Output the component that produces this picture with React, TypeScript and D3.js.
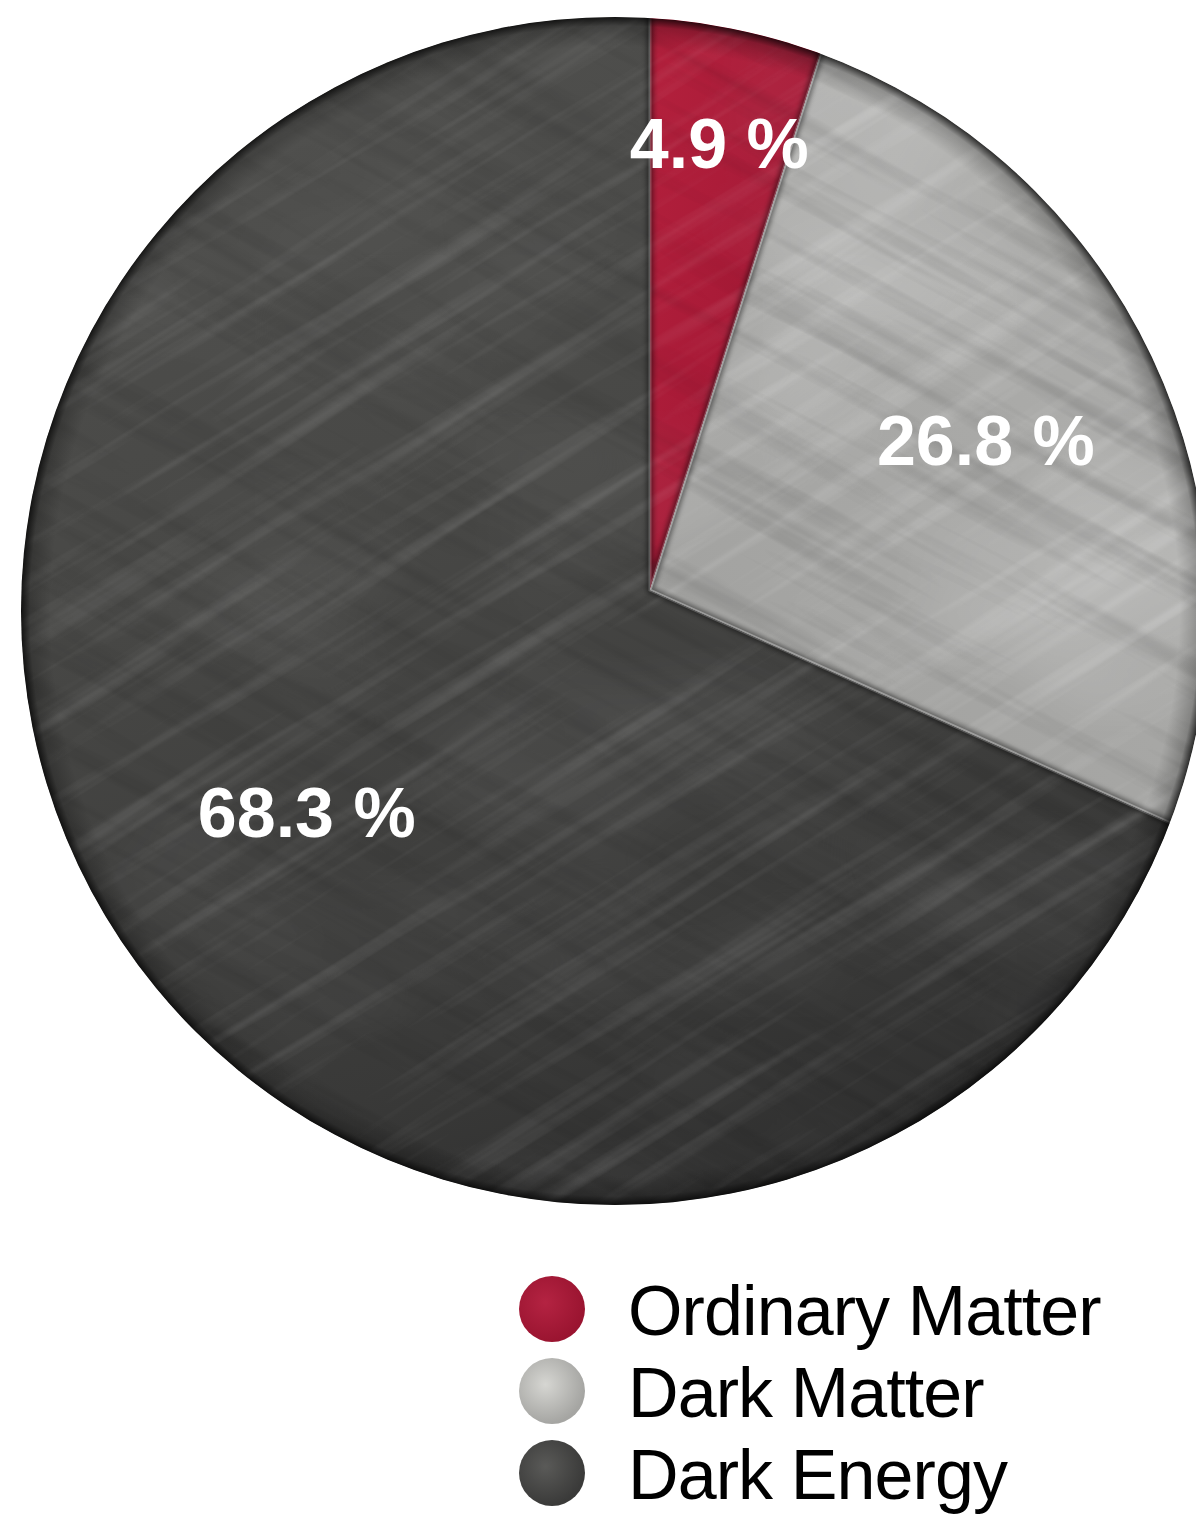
import React from "react";
import * as d3 from "d3";

const categories = ["Ordinary Matter", "Dark Matter", "Dark Energy"];
const values = [4.9, 26.8, 68.3];
const labels = ["4.9 %", "26.8 %", "68.3 %"];

const W = 1196;
const H = 1514;
const VX = 650; // slice vertex
const VY = 590;
const CX = 615; // outer disc
const CY = 611;
const R = 594;
const LABEL_R = [452, 368, 409];

const fills = ["url(#gRed)", "url(#gGray)", "url(#gDark)"];
const texOpacity = [0.12, 0.2, 0.15];

export default function App() {
  const pie = d3.pie<number>().sort(null).value((d) => d)(values);
  const arc = d3.arc<d3.PieArcDatum<number>>().innerRadius(0).outerRadius(760);

  return (
    <div style={{ position: "absolute", left: 0, top: 0, width: W, height: H, background: "#fff" }}>
      <svg width={W} height={H} viewBox={`0 0 ${W} ${H}`} style={{ display: "block" }}>
        <defs>
          <linearGradient id="gRed" x1="0" y1="0" x2="1" y2="1">
            <stop offset="0" stopColor="#b8233f" />
            <stop offset="0.5" stopColor="#a81a37" />
            <stop offset="1" stopColor="#961330" />
          </linearGradient>
          <linearGradient id="gGray" x1="0.9" y1="0" x2="0.2" y2="1">
            <stop offset="0" stopColor="#c0c0bc" />
            <stop offset="0.45" stopColor="#acacaa" />
            <stop offset="1" stopColor="#a0a09e" />
          </linearGradient>
          <linearGradient id="gDark" x1="0.2" y1="0" x2="0.5" y2="1">
            <stop offset="0" stopColor="#535351" />
            <stop offset="0.45" stopColor="#484846" />
            <stop offset="0.8" stopColor="#393938" />
            <stop offset="1" stopColor="#2a2a2a" />
          </linearGradient>
          <radialGradient id="gRim" cx="0.5" cy="0.5" r="0.5">
            <stop offset="0.95" stopColor="#000" stopOpacity="0" />
            <stop offset="0.985" stopColor="#000" stopOpacity="0.22" />
            <stop offset="1" stopColor="#000" stopOpacity="0.75" />
          </radialGradient>
          <radialGradient id="lgGray" cx="0.4" cy="0.4" r="0.6">
            <stop offset="0" stopColor="#d6d6d2" />
            <stop offset="1" stopColor="#a5a5a2" />
          </radialGradient>
          <radialGradient id="lgDark" cx="0.4" cy="0.4" r="0.6">
            <stop offset="0" stopColor="#5a5a58" />
            <stop offset="1" stopColor="#3a3a39" />
          </radialGradient>
          <radialGradient id="lgRed" cx="0.4" cy="0.4" r="0.6">
            <stop offset="0" stopColor="#b42342" />
            <stop offset="1" stopColor="#9a1430" />
          </radialGradient>
          <filter id="brushLight" x="0" y="0" width="100%" height="100%">
            <feTurbulence type="fractalNoise" baseFrequency="0.0025 0.06" numOctaves="3" seed="7" result="n" />
            <feColorMatrix
              in="n"
              type="matrix"
              values="0 0 0 0 1  0 0 0 0 1  0 0 0 0 1  2.0 0 0 0 -0.95"
            />
          </filter>
          <filter id="brushDark" x="0" y="0" width="100%" height="100%">
            <feTurbulence type="fractalNoise" baseFrequency="0.0025 0.05" numOctaves="3" seed="19" result="n" />
            <feColorMatrix
              in="n"
              type="matrix"
              values="0 0 0 0 0  0 0 0 0 0  0 0 0 0 0  2.0 0 0 0 -0.9"
            />
          </filter>
          <filter id="cloud" x="0" y="0" width="100%" height="100%">
            <feTurbulence type="fractalNoise" baseFrequency="0.004 0.006" numOctaves="2" seed="4" result="n" />
            <feColorMatrix
              in="n"
              type="matrix"
              values="0 0 0 0 1  0 0 0 0 1  0 0 0 0 1  1.4 0 0 0 -0.55"
            />
          </filter>
          <clipPath id="disc">
            <circle cx={CX} cy={CY} r={R} />
          </clipPath>
          {pie.map((d, i) => (
            <clipPath id={`clip${i}`} key={i}>
              <path d={arc(d) || ""} transform={`translate(${VX},${VY})`} />
            </clipPath>
          ))}
          <filter id="shadow" x="-10%" y="-10%" width="120%" height="120%">
            <feGaussianBlur stdDeviation="2.5" />
          </filter>
        </defs>

        <g clipPath="url(#disc)">
          {pie.map((d, i) => (
            <g key={i} clipPath={`url(#clip${i})`}>
              <path d={arc(d) || ""} transform={`translate(${VX},${VY})`} fill={fills[i]} />
              <g opacity={i === 1 ? 0.28 : 0.1}>
                <rect x={0} y={0} width={W} height={1240} filter="url(#cloud)" />
              </g>
              <g transform={`rotate(-32 ${CX} ${CY})`} opacity={texOpacity[i]}>
                <rect x={-300} y={-300} width={1800} height={1800} filter="url(#brushLight)" />
              </g>
              <g transform={`rotate(28 ${CX} ${CY})`} opacity={texOpacity[i] * 0.8}>
                <rect x={-300} y={-300} width={1800} height={1800} filter="url(#brushDark)" />
              </g>
              <path
                d={arc(d) || ""}
                transform={`translate(${VX},${VY})`}
                fill="none"
                stroke="#000"
                strokeOpacity={0.45}
                strokeWidth={7}
                filter="url(#shadow)"
              />
              <path
                d={arc(d) || ""}
                transform={`translate(${VX},${VY})`}
                fill="none"
                stroke="#fff"
                strokeOpacity={i === 1 ? 0.35 : 0.22}
                strokeWidth={3}
              />
            </g>
          ))}
          <circle cx={CX} cy={CY} r={R} fill="url(#gRim)" />
        </g>

        {pie.map((d, i) => {
          const a = (d.startAngle + d.endAngle) / 2;
          const x = VX + LABEL_R[i] * Math.sin(a);
          const y = VY - LABEL_R[i] * Math.cos(a);
          return (
            <text
              key={i}
              x={x}
              y={y + 25}
              textAnchor="middle"
              fill="#fff"
              fontFamily="'Liberation Sans', Arial, sans-serif"
              fontWeight="bold"
              fontSize={70}
            >
              {labels[i]}
            </text>
          );
        })}

        <g>
          {categories.map((c, i) => (
            <g key={c} transform={`translate(0, ${i * 82})`}>
              <circle
                cx={552}
                cy={1309}
                r={33}
                fill={["url(#lgRed)", "url(#lgGray)", "url(#lgDark)"][i]}
              />
              <text
                x={628}
                y={1335}
                fontFamily="'Liberation Sans', Arial, sans-serif"
                fontSize={70}
                letterSpacing={-0.9}
                fill="#000"
              >
                {c}
              </text>
            </g>
          ))}
        </g>
      </svg>
    </div>
  );
}
